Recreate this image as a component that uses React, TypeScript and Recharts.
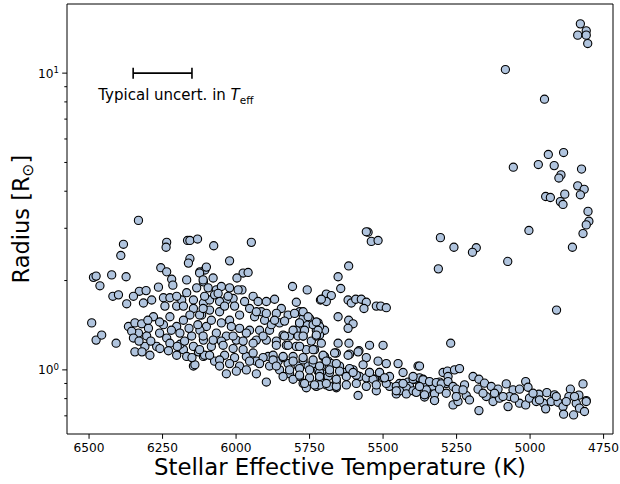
import { ScatterChart, Scatter, XAxis, YAxis, ErrorBar, ReferenceArea, Label } from 'recharts';

// [Teff (K), radius (R_sun)]
type Star = [number, number];

const evolvedStars: Star[] = [
  [4829, 14.66], [4809, 13.89], [4838, 13.43], [4809, 13.43], [4804, 12.58], [5084, 10.28],
  [4951, 8.17], [4938, 5.32], [4886, 5.4], [5057, 4.82], [4972, 4.92], [4918, 4.88],
  [4895, 4.54], [4902, 4.43], [4825, 4.75], [4838, 4.17], [4816, 4.06], [4829, 3.89],
  [4947, 3.84], [4931, 3.81], [4882, 3.91], [4897, 3.69], [4888, 3.61], [4803, 3.42],
  [4800, 3.17], [4809, 3.08], [4820, 2.88], [5004, 2.95], [5305, 2.79], [5259, 2.59],
  [5183, 2.58], [5196, 2.49], [4856, 2.59], [5312, 2.19], [5076, 2.32], [4910, 1.59],
  [5270, 1.23],
];

const subgiantStars: Star[] = [
  [6332, 3.19], [6383, 2.65], [6392, 2.43], [6236, 2.69], [6238, 2.59], [6165, 2.73],
  [6157, 2.73], [6131, 2.76], [6157, 2.37], [6162, 2.29], [6485, 2.05], [6476, 2.07],
  [6463, 1.92], [6423, 2.09], [6374, 2.06], [6419, 1.77], [6400, 1.79], [6372, 1.67],
  [6329, 1.84], [6306, 1.85], [6349, 1.77], [6315, 1.68], [6287, 1.72], [6264, 1.9],
  [6256, 2.21], [6236, 2.14], [6219, 2.02], [6215, 1.93], [6247, 1.75], [6225, 1.75],
  [6242, 1.64], [6202, 1.64], [6185, 1.72], [6168, 1.82], [6145, 1.72], [6134, 1.89],
  [6111, 1.98], [6123, 2.14], [6106, 2.17], [6168, 2.01], [6202, 1.77], [6179, 1.64],
  [6145, 1.61], [6111, 1.68], [6117, 1.53], [6157, 1.53], [6225, 1.51],
  [6076, 2.62], [5948, 2.69], [6022, 2.33], [5976, 2.12], [5959, 2.13], [5997, 2.04],
  [6101, 2.22], [6124, 2.12], [6112, 2.01], [5808, 1.91], [5758, 1.86], [5693, 1.79],
  [5713, 1.72], [5795, 1.69], [5980, 1.86],
  [6078, 2.04], [6095, 1.89], [6067, 1.86], [6050, 1.91], [6022, 1.89], [6010, 1.74],
  [6033, 1.72], [6056, 1.7], [6090, 1.72], [5942, 1.77], [5925, 1.7], [5897, 1.7],
  [5869, 1.73], [5846, 1.61], [5823, 1.53], [5863, 1.55], [5914, 1.57], [5954, 1.61],
  [5784, 1.57], [5750, 1.49], [5721, 1.44], [5727, 1.36], [5761, 1.42], [5784, 1.44],
  [5795, 1.36], [5818, 1.3], [5852, 1.44], [5886, 1.36], [5920, 1.36], [5954, 1.36],
  [5988, 1.38], [6022, 1.47], [6056, 1.57], [6090, 1.59], [6124, 1.53], [6101, 1.4],
  [6067, 1.33], [6033, 1.3], [5999, 1.26], [5965, 1.33], [5931, 1.26], [5897, 1.26],
  [5863, 1.25], [5829, 1.21], [5795, 1.2], [5761, 1.17], [5733, 1.17],
  [6107, 1.77], [6073, 1.79], [6039, 1.64], [6005, 1.64], [5971, 1.7], [5988, 1.53],
  [6016, 1.4], [6050, 1.44], [6084, 1.47], [6112, 1.61], [5937, 1.51], [5903, 1.47],
  [5880, 1.42], [5908, 1.3], [5942, 1.23], [5976, 1.25], [6010, 1.3], [6050, 1.25],
  [5840, 1.31], [5806, 1.36], [5772, 1.3], [5744, 1.25], [5710, 1.23], [5699, 1.36],
  [5738, 1.42], [5772, 1.49], [5801, 1.55], [5835, 1.46], [5869, 1.47], [5897, 1.55],
  [5931, 1.57], [5993, 1.86], [6027, 1.77], [6061, 1.81],
  [5551, 2.91], [5557, 2.92], [5540, 2.71], [5517, 2.73], [5617, 2.24], [5653, 2.06],
  [5644, 1.88], [5693, 1.8], [5676, 1.78], [5693, 1.7], [5710, 1.73], [5619, 1.72],
  [5608, 1.68], [5593, 1.73], [5574, 1.73], [5557, 1.69], [5565, 1.61], [5523, 1.64],
  [5508, 1.64], [5489, 1.62], [5653, 1.51], [5617, 1.47], [5602, 1.43], [5619, 1.38],
  [5716, 1.4], [5716, 1.31], [5653, 1.23], [5616, 1.23], [5546, 1.21], [5500, 1.21],
  [5772, 1.57], [5755, 1.51], [5727, 1.45], [5721, 1.36], [5727, 1.3], [5784, 1.44],
  [5767, 1.36], [5789, 1.3], [5835, 1.3], [5772, 1.3], [5727, 1.31],
];

const hotDwarfs: Star[] = [
  [6491, 1.44], [6476, 1.26], [6457, 1.31], [6408, 1.23], [6366, 1.4], [6344, 1.44],
  [6321, 1.43], [6281, 1.51], [6298, 1.38], [6332, 1.33], [6355, 1.35], [6349, 1.28],
  [6304, 1.3], [6270, 1.2], [6236, 1.28], [6247, 1.42], [6202, 1.4], [6179, 1.47],
  [6191, 1.33], [6151, 1.3], [6123, 1.36], [6111, 1.26], [6145, 1.2], [6179, 1.17],
  [6168, 1.11], [6202, 1.12], [6225, 1.23], [6310, 1.2], [6344, 1.15], [6293, 1.12],
  [6259, 1.18], [6128, 1.15], [6145, 1.03], [6111, 1.11], [6140, 1.04],
  [6330, 1.25], [6290, 1.25], [6260, 1.33], [6220, 1.36], [6190, 1.22], [6160, 1.38],
  [6130, 1.42], [6260, 1.45], [6300, 1.47], [6230, 1.16], [6200, 1.2], [6175, 1.25],
  [6150, 1.1], [6320, 1.15],
  [6084, 1.2], [6107, 1.12], [6073, 1.07], [6039, 1.12], [6005, 1.1], [5965, 1.11],
  [5931, 1.07], [5891, 1.11], [5857, 1.07], [5823, 1.05], [5789, 1.03], [5755, 1.03],
  [5721, 0.99],
  [5704, 1.11], [5687, 1.07], [5710, 1.03], [5738, 1.05], [5772, 1.08], [5806, 1.11],
  [5840, 1.1], [5874, 1.12], [5908, 1.1], [5942, 1.14], [5976, 1.17], [6010, 1.18],
  [6044, 1.21], [6078, 1.26], [6112, 1.3], [6124, 1.17], [6090, 1.12], [6056, 1.08],
  [6022, 1.05], [5988, 1.03], [5954, 1.07], [5920, 1.05], [5886, 1.03], [5852, 1.0],
  [5818, 0.97], [5784, 0.95], [5750, 0.94], [5716, 0.93], [5693, 0.97], [5897, 0.91],
  [5931, 0.97], [5965, 1.0], [5999, 0.99], [6033, 0.97], [6056, 1.03],
];

const coolDwarfs: Star[] = [
  [5659, 1.14], [5614, 1.13], [5582, 1.16], [5557, 1.1], [5517, 1.07], [5489, 1.05],
  [5449, 1.05], [5381, 1.03], [5699, 1.11], [5676, 1.05], [5648, 1.03], [5716, 0.98],
  [5687, 0.95], [5659, 0.91], [5631, 0.98], [5602, 1.0], [5580, 0.95], [5546, 0.98],
  [5529, 0.93], [5500, 0.94], [5478, 0.88], [5444, 0.9], [5415, 0.91], [5392, 0.93],
  [5376, 0.88], [5347, 0.91], [5325, 0.86], [5308, 0.89], [5285, 0.9], [5455, 0.83],
  [5427, 0.85], [5410, 0.88], [5585, 0.82], [5523, 0.85], [5359, 0.81], [5325, 0.79],
  [5682, 0.98], [5648, 0.99], [5625, 0.95], [5591, 0.96], [5557, 0.94], [5534, 0.93],
  [5512, 0.98], [5489, 0.9], [5455, 0.88], [5421, 0.87], [5398, 0.93], [5376, 0.94],
  [5353, 0.9], [5330, 0.88], [5308, 0.91], [5444, 0.85], [5421, 0.83], [5398, 0.85],
  [5353, 0.83], [5772, 0.9], [5727, 0.88], [5693, 0.89], [5659, 0.87], [5761, 0.87],
  [5716, 0.89], [5682, 0.88],
  [5863, 1.21], [5823, 1.21], [5784, 1.2], [5738, 1.17], [5704, 1.12], [5665, 1.14],
  [5619, 1.12], [5585, 1.15], [5874, 1.08], [5840, 1.11], [5806, 1.07], [5772, 1.1],
  [5738, 1.08], [5693, 1.07], [5659, 1.05], [5614, 1.01], [5568, 1.04], [5546, 0.98],
  [5512, 0.98], [5478, 0.95], [5432, 0.98], [5398, 0.95], [5364, 0.93], [5863, 1.03],
  [5818, 1.0], [5784, 1.01], [5750, 1.0], [5716, 1.03], [5682, 1.0], [5602, 0.98],
  [5840, 0.95], [5806, 0.93], [5767, 0.9], [5733, 0.89], [5693, 0.9], [5659, 0.88],
  [5625, 0.89], [5591, 0.9], [5557, 0.88], [5495, 0.94], [5455, 0.85], [5387, 0.84],
  [5784, 0.96], [5716, 0.95], [5659, 0.93], [5523, 0.89], [5432, 0.9],
  [5376, 1.03], [5296, 0.98], [5281, 0.99], [5257, 1.0], [5240, 1.01], [5364, 0.925],
  [5342, 0.913], [5319, 0.906], [5302, 0.897], [5279, 0.95], [5279, 0.913], [5262, 0.879],
  [5251, 0.861], [5223, 0.89], [5194, 0.95], [5174, 0.93], [5155, 0.902], [5132, 0.879],
  [5109, 0.861], [5081, 0.897], [5058, 0.856], [5036, 0.861], [5015, 0.913], [5007, 0.874],
  [4970, 0.828], [4943, 0.838], [4917, 0.824], [4863, 0.861], [4834, 0.822], [4820, 0.897],
  [4809, 0.788], [5353, 0.856], [5325, 0.83], [5325, 0.788], [5262, 0.762], [5245, 0.782],
  [5217, 0.819], [5177, 0.861], [5174, 0.729], [5149, 0.813], [5126, 0.782], [5104, 0.803],
  [5075, 0.752], [5070, 0.813], [5036, 0.772], [5015, 0.762], [5002, 0.803], [4979, 0.782],
  [4954, 0.772], [4947, 0.739], [4928, 0.782], [4905, 0.778], [4888, 0.752], [4886, 0.709],
  [4868, 0.813], [4852, 0.705], [4843, 0.772], [4832, 0.743], [4815, 0.724], [4809, 0.782],
  [5376, 0.879], [5359, 0.824], [5308, 0.861], [5285, 0.834], [5251, 0.813], [5228, 0.856],
  [5206, 0.792], [5160, 0.834], [5121, 0.834], [5092, 0.813], [5053, 0.803], [4990, 0.834],
  [4968, 0.792], [4911, 0.813], [4877, 0.782], [4849, 0.813],
];

const xTicks = [6500, 6250, 6000, 5750, 5500, 5250, 5000, 4750];
const yTicks = [0.7, 0.8, 0.9, 1, 2, 3, 4, 5, 6, 7, 8, 9, 10];
const yMajorTicks = [1, 10];
const teffDomain = [4718, 6575];
const radiusDomain = [0.608, 17.1];

// typical Teff uncertainty marker
const uncertainty = [{ teff: 6250, radius: 10, err: 100 }];

const FONT = '"DejaVu Sans", sans-serif';
const PLOT_LEFT = 67;
const PLOT_BOTTOM = 434;

const stars = [...evolvedStars, ...subgiantStars, ...hotDwarfs, ...coolDwarfs].map(([teff, radius]) => ({
  teff,
  radius,
}));

function TeffTick({ x, payload }: any) {
  return (
    <g>
      <line x1={x} x2={x} y1={PLOT_BOTTOM} y2={PLOT_BOTTOM + 4.8} stroke="#000" strokeWidth={1} />
      <text x={x} y={PLOT_BOTTOM + 18.3} textAnchor="middle" fontSize={12.2} fill="#000" fontFamily={FONT}>
        {payload.value}
      </text>
    </g>
  );
}

function RadiusTick({ y, payload }: any) {
  const v = payload.value;
  const major = yMajorTicks.includes(v);
  return (
    <g>
      <line x1={PLOT_LEFT - (major ? 4.8 : 2.7)} x2={PLOT_LEFT} y1={y} y2={y} stroke="#000" strokeWidth={1} />
      {major && (
        <text x={59} y={y + 4.4} textAnchor="end" fontSize={12.2} fill="#000" fontFamily={FONT}>
          10
          <tspan dy={-4.6} fontSize={8.6}>
            {Math.round(Math.log10(v))}
          </tspan>
        </text>
      )}
    </g>
  );
}

function StarDot({ cx, cy }: any) {
  return <circle cx={cx} cy={cy} r={4.1} fill="#b0c4de" stroke="#000" strokeWidth={1.1} />;
}

export default function App() {
  return (
    <div style={{ position: 'absolute', left: 0, top: 0 }}>
      <ScatterChart width={620} height={484} margin={{ top: 4, right: 7, left: 0, bottom: 0 }}>
        <XAxis
          type="number"
          dataKey="teff"
          domain={teffDomain}
          reversed
          allowDataOverflow
          ticks={xTicks}
          interval={0}
          tick={<TeffTick />}
          tickLine={false}
          axisLine={false}
          height={50}
        >
          <Label
            content={({ viewBox }: any) => (
              <text
                x={viewBox.x + viewBox.width / 2}
                y={viewBox.y + 41}
                textAnchor="middle"
                fontSize={22.8}
                fill="#000"
                fontFamily={FONT}
              >
                Stellar Effective Temperature (K)
              </text>
            )}
          />
        </XAxis>
        <YAxis
          type="number"
          dataKey="radius"
          scale="log"
          domain={radiusDomain}
          allowDataOverflow
          ticks={yTicks}
          interval={0}
          tick={<RadiusTick />}
          tickLine={false}
          axisLine={false}
          width={67}
        >
          <Label
            content={({ viewBox }: any) => {
              const cx = 28.5;
              const cy = viewBox.y + viewBox.height / 2;
              return (
                <text
                  x={cx}
                  y={cy}
                  transform={`rotate(-90, ${cx}, ${cy})`}
                  textAnchor="middle"
                  fontSize={22.5}
                  fill="#000"
                  fontFamily={FONT}
                >
                  Radius [R
                  <tspan dy={4.5} fontSize={15.5}>
                    ⊙
                  </tspan>
                  <tspan dy={-4.5}>]</tspan>
                </text>
              );
            }}
          />
        </YAxis>
        <ReferenceArea
          x1={teffDomain[0]}
          x2={teffDomain[1]}
          y1={radiusDomain[0]}
          y2={radiusDomain[1]}
          fill="none"
          stroke="#000"
          strokeWidth={1}
          ifOverflow="visible"
        />
        <Scatter data={stars} shape={<StarDot />} isAnimationActive={false} />
        <Scatter data={uncertainty} shape={() => <g />} isAnimationActive={false}>
          <ErrorBar dataKey="err" direction="x" width={5.5} stroke="#000" strokeWidth={1.6} />
        </Scatter>
        <text x={98.3} y={100.3} fontSize={15} fill="#000" fontFamily={FONT}>
          Typical uncert. in{' '}
          <tspan fontStyle="italic">T</tspan>
          <tspan dy={3.2} fontSize={10.5}>
            eff
          </tspan>
        </text>
      </ScatterChart>
    </div>
  );
}
